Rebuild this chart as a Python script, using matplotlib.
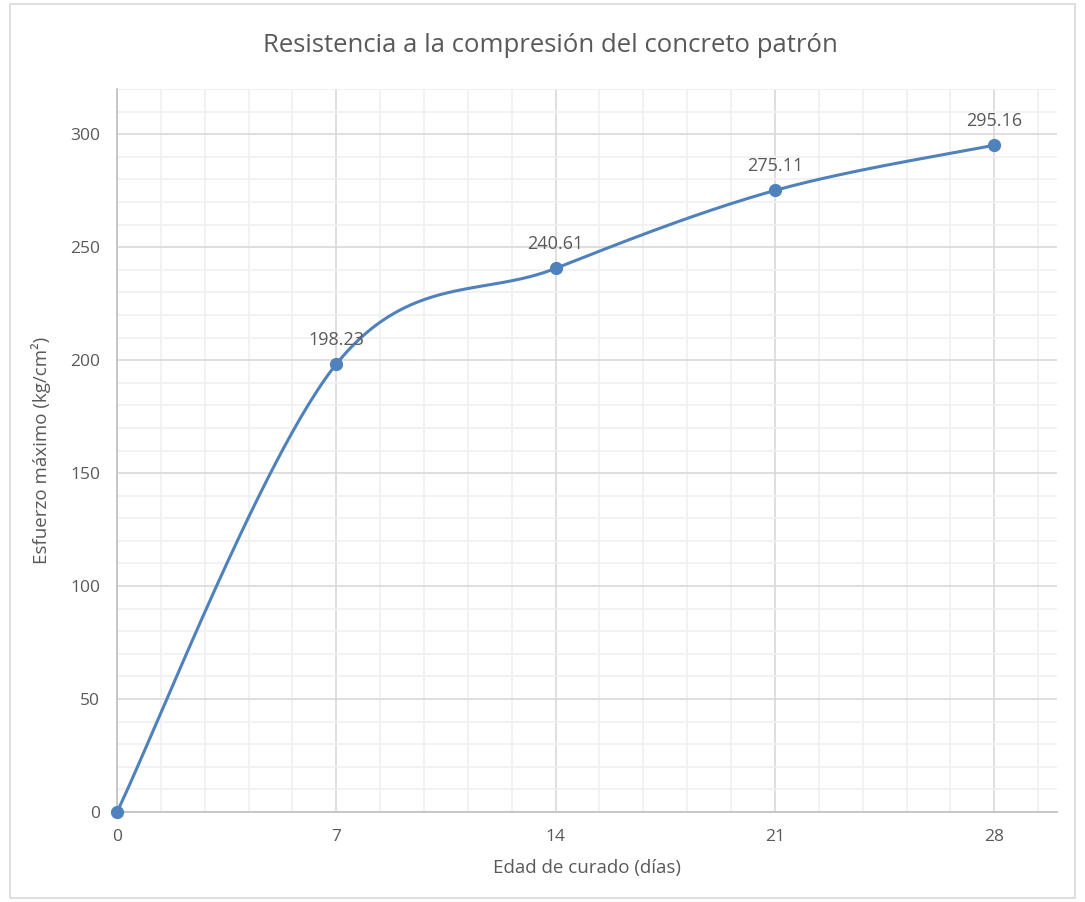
import numpy as np
import matplotlib
matplotlib.use("Agg")
import matplotlib.pyplot as plt
from matplotlib.patches import Rectangle

plt.rcParams['font.family'] = ['Open Sans', 'DejaVu Sans']

dias = [0, 7, 14, 21, 28]
esfuerzo = [0, 198.23, 240.61, 275.11, 295.16]
etiquetas = ["", "198.23", "240.61", "275.11", "295.16"]

title = "Resistencia a la compresión del concreto patrón"
xlabel = "Edad de curado (días)"
ylabel = "Esfuerzo máximo (kg/cm²)"

LINE = "#4f81bd"
TXT = "#595959"


def smooth_curve(x, y, n=60):
    """Cubic Bezier spline through the points (Catmull-Rom style tangents)."""
    x = np.asarray(x, float)
    y = np.asarray(y, float)
    px, py = [], []
    m = len(x)
    for i in range(m - 1):
        p0 = np.array([x[i - 1], y[i - 1]]) if i > 0 else np.array([x[i], y[i]])
        p1 = np.array([x[i], y[i]])
        p2 = np.array([x[i + 1], y[i + 1]])
        p3 = np.array([x[i + 2], y[i + 2]]) if i + 2 < m else p2
        c1 = p1 + (p2 - p0) / 6.0
        c2 = p2 - (p3 - p1) / 6.0
        t = np.linspace(0, 1, n)[:, None]
        pts = ((1 - t) ** 3) * p1 + 3 * ((1 - t) ** 2) * t * c1 + 3 * (1 - t) * t ** 2 * c2 + t ** 3 * p2
        px.extend(pts[:, 0])
        py.extend(pts[:, 1])
    return np.array(px), np.array(py)


fig = plt.figure(figsize=(10.85, 9.02), dpi=100)
fig.patches.append(Rectangle((0.009, 0.004), 0.982, 0.992, transform=fig.transFigure,
                             fill=False, edgecolor="#d9d9d9", linewidth=1.2))
ax = fig.add_axes([0.1078, 0.0998, 0.8663, 0.8015])

ax.set_xlim(0, 30)
ax.set_ylim(0, 320)
ax.set_xticks(dias)
ax.set_yticks(np.arange(0, 301, 50))
ax.set_xticks(np.arange(0, 30.01, 1.4), minor=True)
ax.set_yticks(np.arange(0, 321, 10), minor=True)
ax.grid(which="major", color="#d9d9d9", linewidth=1.2)
ax.grid(which="minor", color="#f0f0f0", linewidth=1.2)
ax.set_axisbelow(True)
ax.tick_params(which="both", length=0, labelsize=12.5, labelcolor=TXT, pad=12)

for s in ["top", "right"]:
    ax.spines[s].set_visible(False)
for s in ["left", "bottom"]:
    ax.spines[s].set_color("#bfbfbf")
    ax.spines[s].set_linewidth(1.2)

sx, sy = smooth_curve(dias, esfuerzo)
ax.plot(sx, sy, color=LINE, linewidth=2.2, clip_on=False, zorder=3)
ax.plot(dias, esfuerzo, "o", color=LINE, markersize=8.5, clip_on=False, zorder=4)

for xv, yv, lab in zip(dias, esfuerzo, etiquetas):
    if lab:
        ax.annotate(lab, (xv, yv), xytext=(0, 11), textcoords="offset points",
                    ha="center", va="bottom", fontsize=13, color=TXT)

fig.text(0.507, 0.950, title, ha="center", va="center", fontsize=18.5, color=TXT)
ax.set_xlabel(xlabel, fontsize=13.5, color=TXT, labelpad=10)
ax.set_ylabel(ylabel, fontsize=13.5, color=TXT, labelpad=14)

fig.savefig("out.png", dpi=100)
